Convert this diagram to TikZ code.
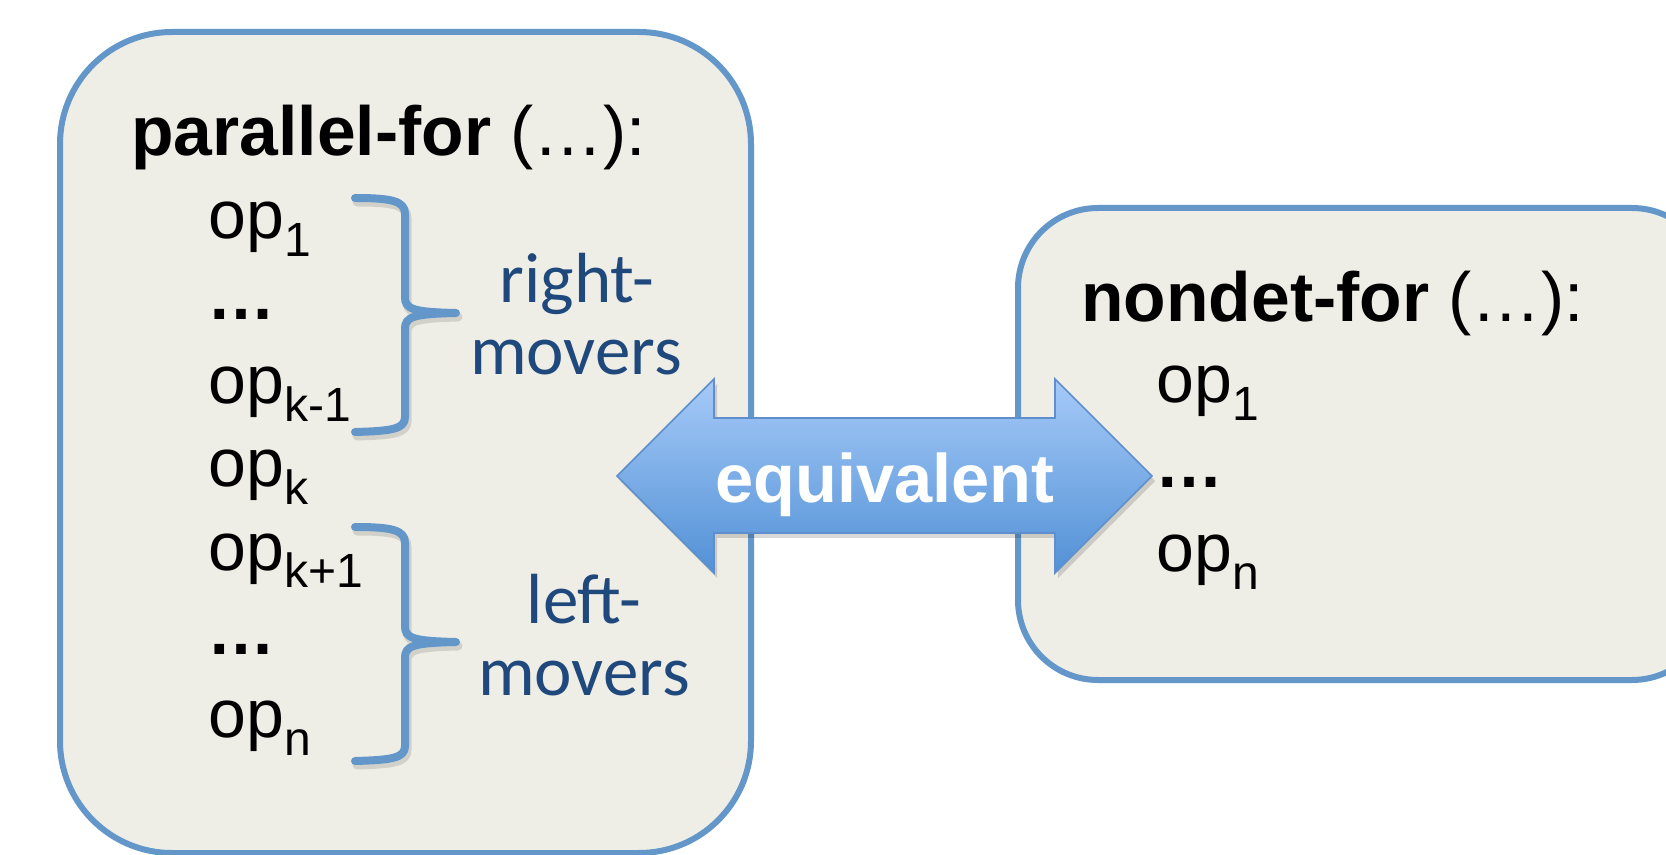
\documentclass[tikz,border=0pt]{standalone}
\usepackage{fontspec}
\setmainfont{Liberation Sans}
\newfontfamily\carlitofont{Carlito}
\definecolor{boxfill}{HTML}{EFEEE6}
\definecolor{boxline}{HTML}{6396C9}
\definecolor{braceblue}{HTML}{6397CA}
\definecolor{darkblue}{HTML}{1F497D}
\definecolor{arrtop}{HTML}{A6CAF8}
\definecolor{arrbot}{HTML}{5291D6}
\definecolor{arrline}{HTML}{5E8FCC}
\newcommand{\sbs}[1]{\raisebox{-9pt}{\fontsize{24}{26}\selectfont #1}}
\begin{document}
\begin{tikzpicture}[x=0.5pt,y=-0.5pt,
  box/.style={draw=boxline, fill=boxfill, line width=3pt},
  bracepath/.style={draw=braceblue, line width=4pt, line cap=round, line join=round},
  braceshadow/.style={draw=black, opacity=0.12, line width=4.5pt, line cap=round, line join=round},
  titletext/.style={anchor=base west, inner sep=0pt, font=\fontsize{34.8}{40}\selectfont},
  optext/.style={anchor=base west, inner sep=0pt, font=\fontsize{34}{40}\selectfont},
  movtext/.style={anchor=base, inner sep=0pt, text=darkblue, font=\carlitofont\fontsize{35.5}{40}\selectfont},
  eqtext/.style={anchor=base, inner sep=0pt, text=white, font=\bfseries\fontsize{34.3}{40}\selectfont},
  arrowshape/.style={draw=arrline, line width=0.8pt, top color=arrtop, bottom color=arrbot}
]
\useasboundingbox (0,0) rectangle (1666,855);
\clip (0,0) rectangle (1666,855);
\fill[white] (0,0) rectangle (1666,855);

% boxes
\draw[box, rounded corners=56pt] (60,32) rectangle (751,853);
\draw[box, rounded corners=40pt] (1018,208) rectangle (1712,680);

% left box text
\node[titletext] (ltitle) at (131,156) {\textbf{parallel-for} (…):};
\node[optext] (l1) at (208,239) {op\sbs{1}};
\node[optext] (l2) at (207,320) {\textbf{…}};
\node[optext] (l3) at (208,404) {op\sbs{k-1}};
\node[optext] (l4) at (208,487) {op\sbs{k}};
\node[optext] (l5) at (208,570) {op\sbs{k+1}};
\node[optext] (l6) at (207,654) {\textbf{…}};
\node[optext] (l7) at (208,737) {op\sbs{n}};

% braces
\foreach \dy in {0,329}{
\begin{scope}[shift={(0,\dy)}]
\draw[braceshadow, shift={(2,4)}] (355,198) .. controls (392,198) and (405,201) .. (405,214) -- (405,297) .. controls (405,309) and (412,312) .. (456,313) .. controls (412,314) and (405,317) .. (405,329) -- (405,417) .. controls (405,429) and (392,431) .. (355,432);
\draw[bracepath] (355,198) .. controls (392,198) and (405,201) .. (405,214) -- (405,297) .. controls (405,309) and (412,312) .. (456,313) .. controls (412,314) and (405,317) .. (405,329) -- (405,417) .. controls (405,429) and (392,431) .. (355,432);
\end{scope}}

\node[movtext] (rm1) at (577,303) {right-};
\node[movtext] (rm2) at (576,375) {movers};
\node[movtext] (lm1) at (584,624) {left-};
\node[movtext] (lm2) at (584,695) {movers};

% right box text
\node[titletext] (rtitle) at (1081,322) {\textbf{nondet-for} (…):};
\node[optext] (r1) at (1156,403) {op\sbs{1}};
\node[optext] (r2) at (1155,488) {\textbf{…}};
\node[optext] (r3) at (1156,572) {op\sbs{n}};

% double arrow
\fill[black, opacity=0.15] (620,481) -- (717,384) -- (717,423) -- (1058,423) -- (1058,384) -- (1155,481) -- (1058,578) -- (1058,538) -- (717,538) -- (717,578) -- cycle;
\draw[arrowshape] (617,476) -- (714,379) -- (714,418) -- (1055,418) -- (1055,379) -- (1152,476) -- (1055,573) -- (1055,533) -- (714,533) -- (714,573) -- cycle;
\node[eqtext] (eq) at (885,503) {equivalent};
\end{tikzpicture}
\end{document}
